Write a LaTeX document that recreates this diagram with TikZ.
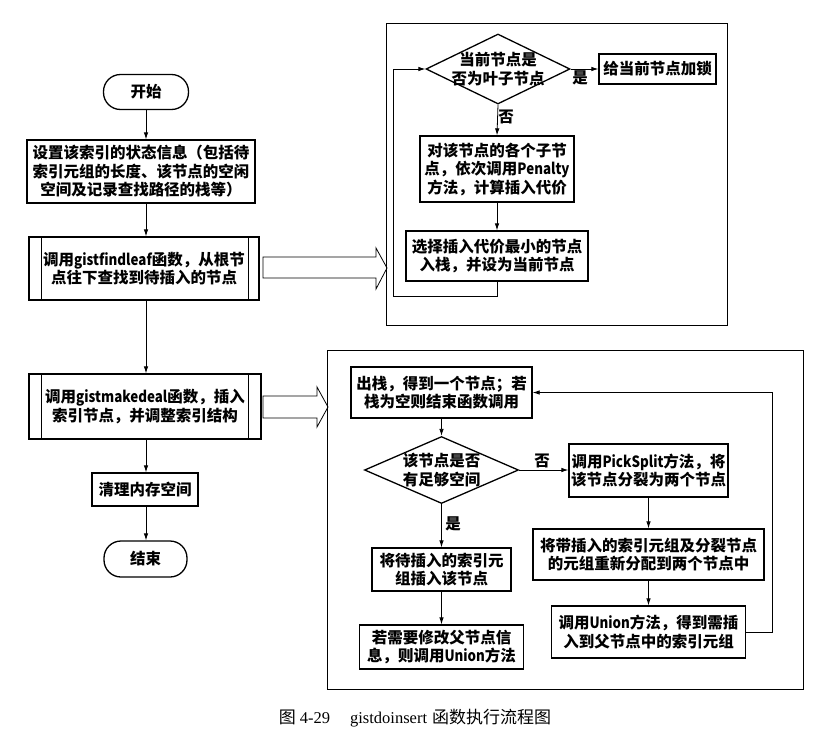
\documentclass[tikz,border=0pt]{standalone}
\usepackage{fontspec}
\setmainfont{Noto Sans CJK SC}
\newfontfamily\latserif{Liberation Serif}
\newfontfamily\latnarrow{Noto Sans CJK SC}[FakeStretch=0.86]
\newcommand\latw[1]{{\latnarrow #1}}
\usetikzlibrary{shapes.geometric,arrows.meta,calc}
\tikzset{
  box/.style={draw, line width=1.3pt, inner sep=0pt, align=center,
    font=\bfseries\fontsize{15.5}{18.5}\selectfont},
  term/.style={box, rounded corners=17pt},
  dia/.style={draw, diamond, line width=1.3pt, inner sep=0pt},
  dtext/.style={align=center, inner sep=0pt, font=\bfseries\fontsize{15.5}{19.5}\selectfont},
  lbl/.style={inner sep=0pt, font=\bfseries\fontsize{15.5}{17}\selectfont},
  conn/.style={line width=0.8pt, -{Latex[length=7pt,width=4.5pt]}},
  frame/.style={draw, line width=0.9pt, inner sep=0pt},
  hollow/.style={draw, line width=0.8pt, line join=miter},
}
\begin{document}
\begin{tikzpicture}[x=1pt,y=-1pt]
\useasboundingbox (0,0) rectangle (825,734);

% ---------------- left main column ----------------
\node[term, minimum width=85pt, minimum height=35pt] (start) at (146,92) {开始};
\node[box, minimum width=228pt, minimum height=63pt] (set) at (141,171.5)
  {设置该索引的状态信息（包括待\\索引元组的长度、该节点的空闲\\空间及记录查找路径的栈等）};
\node[box, minimum width=230pt, minimum height=63pt] (find) at (144,268.5)
  {调用\latw{gistfindleaf}函数，从根节\\点往下查找到待插入的节点};
\node[box, minimum width=232pt, minimum height=65pt] (make) at (145,406.5)
  {调用\latw{gistmakedeal}函数，插入\\索引节点，并调整索引结构};
\node[box, minimum width=106pt, minimum height=33pt] (clean) at (145,489.5) {清理内存空间};
\node[term, minimum width=83pt, minimum height=36pt] (end) at (145.5,559) {结束};

\draw[line width=1.3pt] ($(find.north west)+(13,0)$) -- ($(find.south west)+(13,0)$);
\draw[line width=1.3pt] ($(find.north east)+(-11,0)$) -- ($(find.south east)+(-11,0)$);
\draw[line width=1.3pt] ($(make.north west)+(13,0)$) -- ($(make.south west)+(13,0)$);
\draw[line width=1.3pt] ($(make.north east)+(-13,0)$) -- ($(make.south east)+(-13,0)$);

\draw[conn] (start.south -| 146,0) -- (set.north -| 146,0);
\draw[conn] (set.south -| 146,0) -- (find.north -| 146,0);
\draw[conn] (find.south -| 146,0) -- (make.north -| 146,0);
\draw[conn] (make.south -| 146,0) -- (clean.north -| 146,0);
\draw[conn] (clean.south -| 146,0) -- (end.north -| 146,0);

% ---------------- frame 1: gistfindleaf ----------------
\node[frame, minimum width=341pt, minimum height=302pt] (f1) at (556.5,174) {};
\node[dia, minimum width=144pt, minimum height=70pt,
  label={[dtext]center:{当前节点是\\否为叶子节点}}] (d1) at (498,69) {};
\node[box, minimum width=117pt, minimum height=30pt] (lock) at (657.5,69) {给当前节点加锁};
\node[box, minimum width=154pt, minimum height=66pt] (c1) at (497,169)
  {对该节点的各个子节\\点，依次调用\latw{Penalty}\\方法，计算插入代价};
\node[box, minimum width=182pt, minimum height=50pt] (c2) at (497,256)
  {选择插入代价最小的节点\\入栈，并设为当前节点};

\draw[conn] (d1.east) -- (lock.west);
\node[lbl] (yes1) at (580,78) {是};
\draw[conn] (d1.south) -- (c1.north);
\node[lbl] (no1) at (506,117) {否};
\draw[conn] (c1.south) -- (c2.north);
\draw[conn] (c2.south) |- (393,296) |- (d1.west);

\draw[hollow] (263,257) -- (376,257) -- (376,248) -- (387,268) -- (376,289) -- (376,278) -- (263,278) -- cycle;

% ---------------- frame 2: gistmakedeal ----------------
\node[frame, minimum width=476pt, minimum height=339pt] (f2) at (565,519.5) {};
\node[box, minimum width=181pt, minimum height=51pt] (p1) at (441.5,392.5)
  {出栈，得到一个节点；若\\栈为空则结束函数调用};
\node[dia, minimum width=154pt, minimum height=67pt,
  label={[dtext]center:{该节点是否\\有足够空间}}] (d2) at (441.5,470) {};
\node[box, minimum width=159pt, minimum height=53pt] (ps) at (648.5,470.5)
  {调用\latw{PickSplit}方法，将\\该节点分裂为两个节点};
\node[box, minimum width=231pt, minimum height=51pt] (rd) at (648.5,554.5)
  {将带插入的索引元组及分裂节点\\的元组重新分配到两个节点中};
\node[box, minimum width=194pt, minimum height=52pt] (un) at (648.5,632)
  {调用\latw{Union}方法，得到需插\\入到父节点中的索引元组};
\node[box, minimum width=139pt, minimum height=43pt] (ins) at (441.5,569.5)
  {将待插入的索引元\\组插入该节点};
\node[box, minimum width=164pt, minimum height=44pt] (fix) at (441.5,647)
  {若需要修改父节点信\\息，则调用\latw{Union}方法};

\draw[conn] (p1.south) -- (d2.north);
\draw[conn] (d2.east) -- (d2.east -| ps.west);
\node[lbl] (no2) at (542,461) {否};
\draw[conn] (d2.south) -- (ins.north);
\node[lbl] (yes2) at (453,524) {是};
\draw[conn] (ins.south) -- (fix.north);
\draw[conn] (ps.south) -- (rd.north);
\draw[conn] (rd.south) -- (un.north);
\draw[conn] (un.east) -- ++(26,0) |- (p1.east);

\draw[hollow] (263,396) -- (317,396) -- (317,387) -- (328,407) -- (317,427) -- (317,418) -- (263,418) -- cycle;

% ---------------- caption ----------------
\node[inner sep=0pt, font=\fontsize{17}{19}\selectfont] (cap) at (415,718)
  {图\hspace{4pt}{\latserif\fontsize{16.5}{19}\selectfont 4-29}\hspace{20pt}{\latserif\fontsize{16.5}{19}\selectfont gistdoinsert}\hspace{5pt}函数执行流程图};
\end{tikzpicture}
\end{document}
